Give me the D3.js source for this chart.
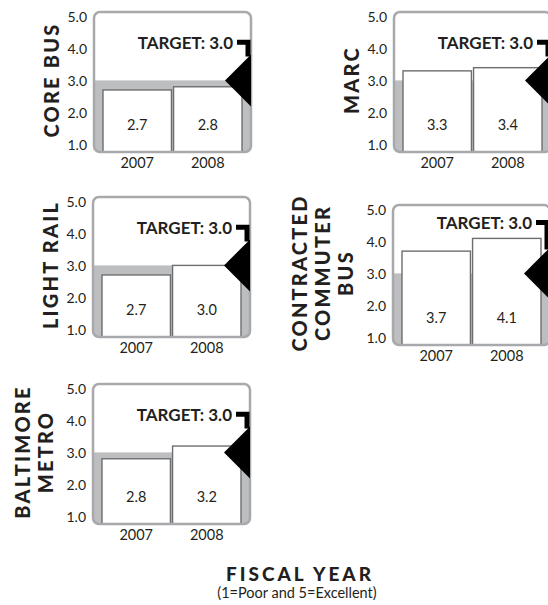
<!DOCTYPE html>
<html><head><meta charset="utf-8">
<script src="https://d3js.org/d3.v7.min.js"></script>
<style>
body{margin:0;background:#fff;}
svg text{font-family:Lato,"Open Sans",sans-serif;fill:#231f20;}
</style></head>
<body><svg id="c" width="548" height="605"></svg>
<script>
// ---- data ----
const categories = ["CORE BUS", "MARC", "LIGHT RAIL", "CONTRACTED COMMUTER BUS", "BALTIMORE METRO"];
const categoryLines = [["CORE BUS"], ["MARC"], ["LIGHT RAIL"], ["CONTRACTED", "COMMUTER", "BUS"], ["BALTIMORE", "METRO"]];
const years = ["2007", "2008"];
const values2007 = [2.7, 3.3, 2.7, 3.7, 2.8];
const values2008 = [2.8, 3.4, 3.0, 4.1, 3.2];
const targetValue = 3.0;
const yTickValues = [1.0, 2.0, 3.0, 4.0, 5.0];
const xAxisTitle = "FISCAL YEAR";
const xAxisSubtitle = "(1=Poor and 5=Excellent)";

// ---- layout ----
const panelPos = [[94, 12], [394, 12], [93, 197], [393, 205], [93, 384]];
const PW = 157, PH = 140;
const svg = d3.select("#c");
const defs = svg.append("defs");

categories.forEach((cat, i) => {
  const [x0, y0] = panelPos[i];
  const g = svg.append("g");
  const y = d3.scaleLinear().domain([0.75, 5.15]).range([y0 + PH, y0]);
  const x = d3.scaleBand().domain(years).range([x0 + 9, x0 + 148]).paddingInner(0.03);
  const vals = [values2007[i], values2008[i]];

  const cid = "clip" + i;
  defs.append("clipPath").attr("id", cid).append("rect")
    .attr("x", x0).attr("y", y0).attr("width", PW).attr("height", PH).attr("rx", 6);

  g.append("rect").attr("x", x0).attr("y", y0).attr("width", PW).attr("height", PH)
    .attr("rx", 6).attr("fill", "#fff");
  g.append("rect").attr("clip-path", `url(#${cid})`)
    .attr("x", x0).attr("y", y(targetValue)).attr("width", PW)
    .attr("height", y0 + PH - y(targetValue)).attr("fill", "#bcbec0");

  // bars
  g.selectAll(".bar").data(years).enter().append("rect")
    .attr("x", d => x(d)).attr("width", x.bandwidth())
    .attr("y", (d, j) => y(vals[j])).attr("height", (d, j) => y(0.75) - y(vals[j]))
    .attr("fill", "#fff").attr("stroke", "#6d6e71").attr("stroke-width", 1.4);

  // value labels
  g.selectAll(".vl").data(years).enter().append("text")
    .attr("x", d => x(d) + x.bandwidth() / 2).attr("y", y(1.6))
    .attr("text-anchor", "middle").attr("dominant-baseline", "central")
    .attr("font-size", 14.5).text((d, j) => vals[j].toFixed(1));

  // frame
  g.append("rect").attr("x", x0).attr("y", y0).attr("width", PW).attr("height", PH)
    .attr("rx", 6).attr("fill", "none").attr("stroke", "#a7a9ac").attr("stroke-width", 2.5);

  // y ticks
  g.selectAll(".yt").data(yTickValues).enter().append("text")
    .attr("x", x0 - 7).attr("y", d => y(d)).attr("text-anchor", "end")
    .attr("dominant-baseline", "central").attr("font-size", 14)
    .text(d => d.toFixed(1));

  // year labels
  g.selectAll(".xt").data(years).enter().append("text")
    .attr("x", d => x(d) + x.bandwidth() / 2).attr("y", y0 + PH + 10)
    .attr("text-anchor", "middle").attr("dominant-baseline", "central")
    .attr("font-size", 14.5).text(d => d);

  // target marker
  const xr = x0 + PW;
  const labelVal = Math.max(4.2, d3.max(vals) + 0.5);
  const ly = y(labelVal);
  const ty = y(targetValue);
  g.append("text").attr("x", xr - 18).attr("y", ly).attr("text-anchor", "end")
    .attr("dominant-baseline", "central").attr("font-size", 17).attr("font-weight", "bold")
    .text("TARGET: " + targetValue.toFixed(1));
  const p = d3.path();
  p.moveTo(xr - 14, ly); p.lineTo(xr - 3, ly); p.lineTo(xr - 3, ty - 24);
  g.append("path").attr("d", p.toString()).attr("fill", "none")
    .attr("stroke", "#000").attr("stroke-width", 5);
  const t = d3.path();
  t.moveTo(xr - 26, ty); t.lineTo(xr, ty - 26); t.lineTo(xr, ty + 26); t.closePath();
  g.append("path").attr("d", t.toString()).attr("fill", "#000");

  // category label
  const lines = categoryLines[i];
  const cy = y0 + PH / 2 - 2;
  const lastX = x0 - 43 - (lines.length > 1 ? 5 : 0);
  lines.forEach((ln, k) => {
    const cx = lastX - (lines.length - 1 - k) * 23;
    g.append("text").attr("transform", `translate(${cx},${cy}) rotate(-90)`)
      .attr("text-anchor", "middle").attr("dominant-baseline", "central")
      .attr("font-size", 20).attr("font-weight", 900).attr("letter-spacing", 2.2)
      .text(ln);
  });
});

svg.append("text").attr("x", 300).attr("y", 573).attr("text-anchor", "middle")
  .attr("dominant-baseline", "central").attr("font-size", 19).attr("font-weight", 900)
  .attr("letter-spacing", 3).text(xAxisTitle);
svg.append("text").attr("x", 297).attr("y", 592).attr("text-anchor", "middle")
  .attr("dominant-baseline", "central").attr("font-size", 14.5).text(xAxisSubtitle);
</script></body></html>
